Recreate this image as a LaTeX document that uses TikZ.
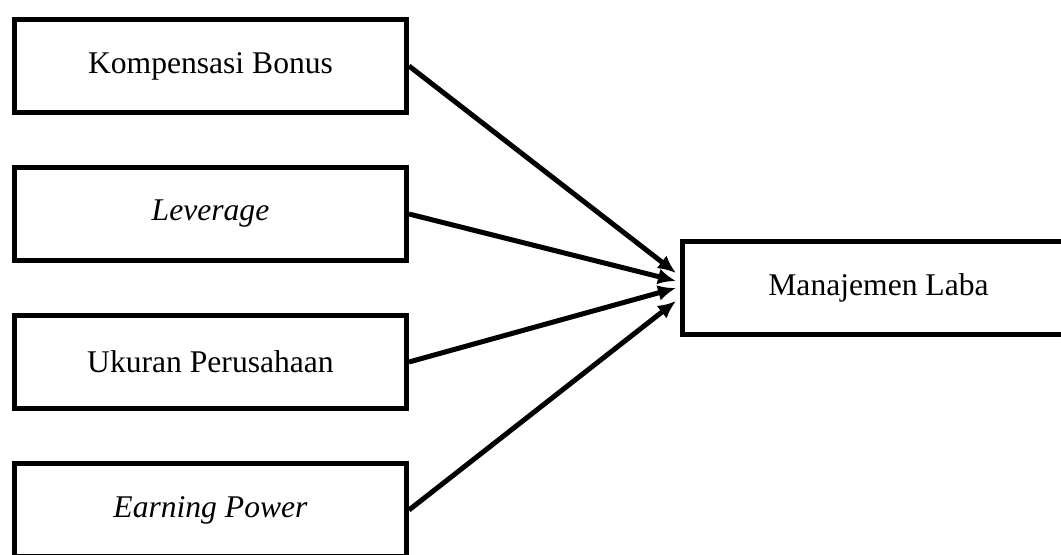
\documentclass[tikz,border=0pt]{standalone}
\usepackage{fontspec}
\setmainfont{Liberation Serif}
\usetikzlibrary{calc}
\usetikzlibrary{positioning}
\usetikzlibrary{arrows.meta}

\begin{document}
\begin{tikzpicture}
      \tikzset{vblock/.style={draw, line width=2.5pt, font=\fontsize{15.8}{19}\selectfont, text centered,
        minimum width=196pt, minimum height=46.5pt, inner sep=0pt}};
      \tikzset{path/.style={line width=2.5pt, -{Latex[length=9pt,width=8pt]}}};
      \useasboundingbox (0,0) rectangle (530.5pt,-277.5pt);

      \node[vblock](bonusK) at (105.25pt,-33pt){Kompensasi Bonus};
      \node[vblock, below = 25pt of bonusK](levR) {\textit{Leverage}};
      \node[vblock, below = 25pt of levR](ukuranP) {Ukuran Perusahaan};
      \node[vblock, below = 25pt of ukuranP](earnP) {\textit{Earning Power}};

      \coordinate (rbpivot) at ($(levR.south east)!0.5!(ukuranP.north east)$);
      \node[vblock, right = 135.5pt of rbpivot](labaM){Manajemen Laba};

      % ujung panah
      \coordinate (in1) at ($(labaM.west)+(-2pt,7.5pt)$);
      \coordinate (in2) at ($(labaM.west)+(-2pt,3.5pt)$);
      \coordinate (in3) at ($(labaM.west)+(-2pt,0pt)$);
      \coordinate (in4) at ($(labaM.west)+(-2pt,-6.5pt)$);

      % panah ke Manajemen Laba
      \draw[path] (bonusK.east)--(in1);
      \draw[path] (levR.east)--(in2);
      \draw[path] (ukuranP.east)--(in3);
      \draw[path] (earnP.east)--(in4);
    \end{tikzpicture}
\end{document}
